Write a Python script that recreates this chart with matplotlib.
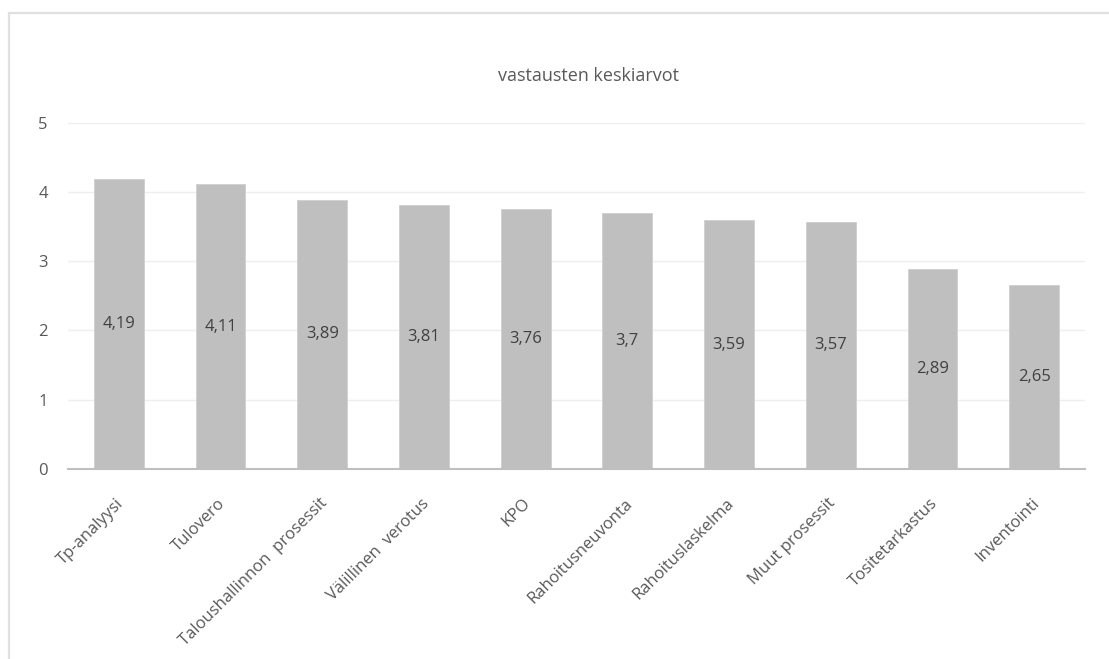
import matplotlib
matplotlib.use("Agg")
import matplotlib.pyplot as plt
from matplotlib.patches import Rectangle
from matplotlib.transforms import ScaledTranslation

categories = [
    "Tp-analyysi",
    "Tulovero",
    "Taloushallinnon  prosessit",
    "Välillinen  verotus",
    "KPO",
    "Rahoitusneuvonta",
    "Rahoituslaskelma",
    "Muut prosessit",
    "Tositetarkastus",
    "Inventointi",
]
values = [4.19, 4.11, 3.89, 3.81, 3.76, 3.7, 3.59, 3.57, 2.89, 2.65]
value_labels = ["4,19", "4,11", "3,89", "3,81", "3,76", "3,7", "3,59", "3,57", "2,89", "2,65"]
y_ticks = [0, 1, 2, 3, 4, 5]
title = "vastausten keskiarvot"

plt.rcParams["font.family"] = ["Open Sans", "DejaVu Sans"]

W, H = 1109, 659
fig = plt.figure(figsize=(W / 100, H / 100), dpi=100)
fig.patch.set_facecolor("white")

# outer chart frame (runs off the right and bottom edges)
fig.patches.append(Rectangle((9 / W, -0.1), 1.2, (H - 12.5) / H + 0.1,
                             transform=fig.transFigure, fill=False,
                             edgecolor="#e0e0e0", linewidth=1.6))

left, right = 68 / W, 1085 / W
bottom, top = (H - 469) / H, (H - 122.7) / H
ax = fig.add_axes([left, bottom, right - left, top - bottom])

x = list(range(len(categories)))
bars = ax.bar(x, values, width=0.49, color="#bfbfbf",
              edgecolor="#cfcfcf", linewidth=0.6, zorder=2)
ax.bar_label(bars, labels=value_labels, label_type="center",
             fontsize=12, color="#404040")

ax.set_xlim(-0.5, len(categories) - 0.5)
ax.set_ylim(0, 5)
ax.set_yticks(y_ticks)
ax.set_yticklabels([str(t) for t in y_ticks], fontsize=12, color="#595959")
ax.tick_params(axis="y", length=0, pad=14.5)
ax.yaxis.grid(True, color="#eeeeee", linewidth=1, zorder=0)
ax.set_axisbelow(True)

ax.set_xticks(x)
ax.set_xticklabels(categories, rotation=45, ha="right", rotation_mode="anchor",
                   fontsize=12, color="#595959")
ax.tick_params(axis="x", length=0, pad=19)
shift = ScaledTranslation(-3 / 100, 0, fig.dpi_scale_trans)
for lbl in ax.get_xticklabels():
    lbl.set_transform(lbl.get_transform() + shift)

for s in ["top", "right", "left"]:
    ax.spines[s].set_visible(False)
ax.spines["bottom"].set_color("#bfbfbf")
ax.spines["bottom"].set_linewidth(1.5)
ax.spines["bottom"].set_zorder(3)

fig.text(589 / W, (H - 76) / H, title, ha="center", va="center",
         fontsize=13, color="#595959")

fig.savefig("out.png", dpi=100, facecolor="white")
